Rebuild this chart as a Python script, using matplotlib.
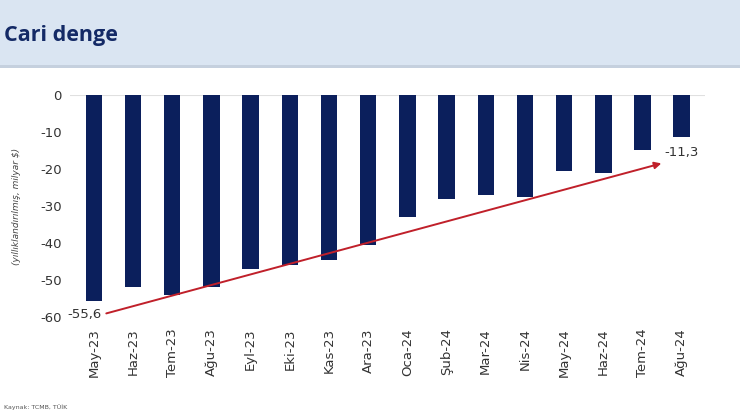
import matplotlib.pyplot as plt
from matplotlib.patches import Rectangle

months = ["May-23", "Haz-23", "Tem-23", "Ağu-23", "Eyl-23", "Eki-23", "Kas-23", "Ara-23",
          "Oca-24", "Şub-24", "Mar-24", "Nis-24", "May-24", "Haz-24", "Tem-24", "Ağu-24"]
values = [-55.6, -52.0, -54.0, -52.0, -47.0, -46.0, -44.5, -40.5,
          -33.0, -28.0, -27.0, -27.5, -20.5, -21.0, -15.0, -11.3]

NAVY = "#0B1F5C"
RED = "#C0202A"

fig = plt.figure(figsize=(7.4, 4.2), dpi=100)
fig.patch.set_facecolor("white")

# header band
fig.patches.append(Rectangle((0, 0.845), 1, 0.155, transform=fig.transFigure,
                             facecolor="#DAE5F2", edgecolor="none", zorder=0))
fig.patches.append(Rectangle((0, 0.838), 1, 0.008, transform=fig.transFigure,
                             facecolor="#C5D0DE", edgecolor="none", zorder=0))
fig.text(0.006, 0.915, "Cari denge", fontsize=15.5, weight="bold", color="#142A66",
         ha="left", va="center", family="Open Sans")

ax = fig.add_axes([0.095, 0.245, 0.858, 0.529])
x = range(len(months))
ax.bar(x, values, width=0.42, color=NAVY, zorder=2)
ax.set_ylim(-60, 0)
ax.set_xlim(-0.6, len(months) - 0.4)
ax.set_yticks(range(-60, 1, 10))
ax.set_yticklabels([str(v) for v in range(-60, 1, 10)])
ax.set_xticks(list(x))
ax.set_xticklabels(months, rotation=90)
ax.tick_params(length=0, labelsize=9.5, colors="#333333", pad=6)
ax.tick_params(axis="x", pad=8)
for s in ax.spines.values():
    s.set_visible(False)
ax.axhline(0, color="#E0E0E0", lw=0.8, zorder=1)

ax.set_ylabel("(yıllıklandırılmış, milyar $)", fontsize=6.5, style="italic",
              color="#444444", labelpad=14)

# trend arrow
ax.annotate("", xy=(14.55, -18.3), xytext=(0.25, -59.2),
            arrowprops=dict(arrowstyle="-|>", color=RED, lw=1.4, mutation_scale=10),
            zorder=3, annotation_clip=False)
ax.text(0.2, -59.2, "-55,6", ha="right", va="center", fontsize=9.5, color="#333333")
ax.text(15.0, -15.5, "-11,3", ha="center", va="center", fontsize=9.5, color="#333333")

fig.text(0.005, 0.025, "Kaynak: TCMB, TÜİK", fontsize=4.5, color="#555555")

fig.savefig("out.png", dpi=100, facecolor="white")
